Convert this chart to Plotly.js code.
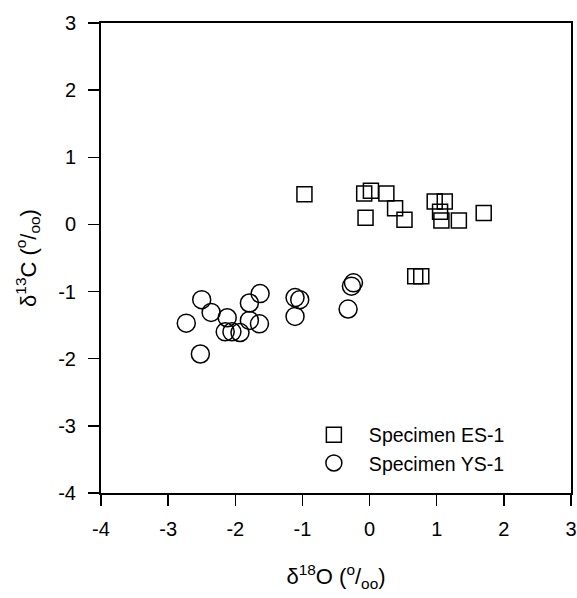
<!DOCTYPE html>
<html>
<head>
<meta charset="utf-8">
<script src="https://cdn.plot.ly/plotly-3.0.1.min.js"></script>
<style>html,body{margin:0;padding:0;background:#fff;}#chart{width:577px;height:598px;}</style>
</head>
<body>
<div id="chart"></div>
<script>
// Specimen ES-1 (squares)
const esD18O = [-0.97, -0.08, 0.02, 0.25, 0.38, -0.06, 0.52, 0.97, 1.12, 1.05, 1.07, 1.33, 1.70, 0.68, 0.77];
const esD13C = [0.45, 0.46, 0.50, 0.46, 0.24, 0.10, 0.07, 0.34, 0.34, 0.19, 0.06, 0.06, 0.17, -0.77, -0.77];
// Specimen YS-1 (circles)
const ysD18O = [-2.50, -2.36, -2.73, -2.52, -2.12, -2.15, -2.05, -1.93, -1.79, -1.63, -1.79, -1.64, -1.11, -1.04, -1.11, -0.24, -0.27, -0.32];
const ysD13C = [-1.12, -1.31, -1.47, -1.93, -1.39, -1.60, -1.60, -1.61, -1.17, -1.03, -1.43, -1.48, -1.09, -1.12, -1.37, -0.87, -0.92, -1.26];
const tickVals = [-4, -3, -2, -1, 0, 1, 2, 3];
const seriesNames = ['Specimen ES-1', 'Specimen YS-1'];

const traces = [
  {x: esD18O, y: esD13C, name: seriesNames[0], type: 'scatter', mode: 'markers',
   marker: {symbol: 'square-open', size: 15, color: '#000', line: {width: 1.5, color: '#000'}}},
  {x: ysD18O, y: ysD13C, name: seriesNames[1], type: 'scatter', mode: 'markers',
   marker: {symbol: 'circle-open', size: 18, color: '#000', line: {width: 1.5, color: '#000'}}}
];

const fontFam = 'Liberation Sans, Arial, sans-serif';
const layout = {
  width: 577, height: 598,
  margin: {l: 101, r: 6, t: 23, b: 105},
  paper_bgcolor: '#fff', plot_bgcolor: '#fff',
  font: {family: fontFam, color: '#000', size: 19},
  showlegend: true,
  legend: {x: 0.421, y: 0.165, xanchor: 'left', yanchor: 'top', bgcolor: 'rgba(0,0,0,0)',
           font: {family: fontFam, size: 19.5, color: '#000'}, itemwidth: 60},
  xaxis: {range: [-4, 3], tickvals: tickVals, ticktext: tickVals.map(String), showgrid: false, zeroline: false,
          showline: true, linecolor: '#000', linewidth: 2, mirror: true,
          ticks: 'outside', ticklen: 11, tickwidth: 1.3, tickcolor: '#000', ticklabelstandoff: 6,
          tickfont: {family: fontFam, size: 20, color: '#000'},
          title: {text: 'δ<sup>18</sup>O (<sup>o</sup>/<sub>oo</sub>)', font: {family: fontFam, size: 22, color: '#000'}, standoff: 30}},
  yaxis: {range: [-4, 3], tickvals: tickVals, ticktext: tickVals.map(String), showgrid: false, zeroline: false,
          showline: true, linecolor: '#000', linewidth: 2, mirror: true,
          ticks: 'outside', ticklen: 11, tickwidth: 1.3, tickcolor: '#000', ticklabelstandoff: 8,
          tickfont: {family: fontFam, size: 20, color: '#000'},
          title: {text: 'δ<sup>13</sup>C (<sup>o</sup>/<sub>oo</sub>)', font: {family: fontFam, size: 22, color: '#000'}, standoff: 16}}
};
Plotly.newPlot('chart', traces, layout, {displayModeBar: false, staticPlot: true});
</script>
</body>
</html>
